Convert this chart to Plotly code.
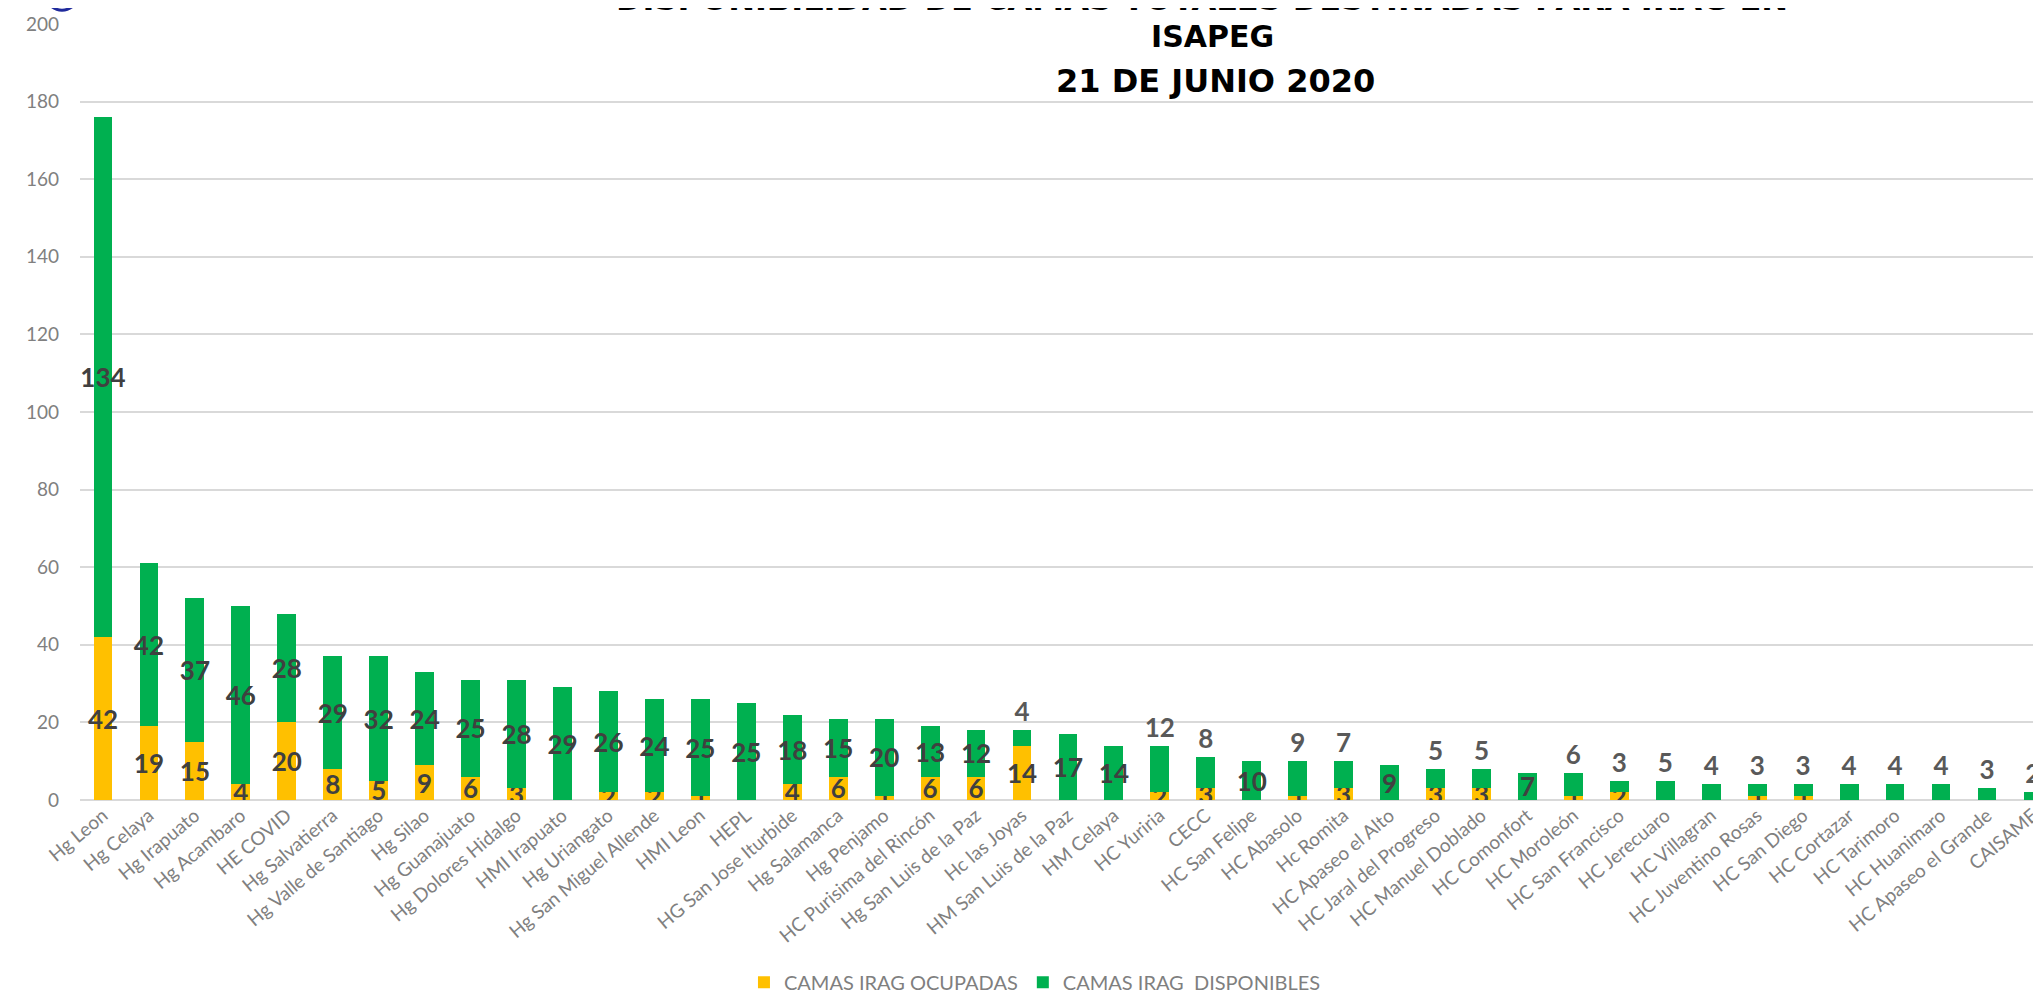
import plotly.graph_objects as go

hospitales = ["Hg Leon", "Hg Celaya", "Hg Irapuato", "Hg Acambaro", "HE COVID",
              "Hg Salvatierra", "Hg Valle de Santiago", "Hg Silao", "Hg Guanajuato",
              "Hg Dolores Hidalgo", "HMI Irapuato", "Hg Uriangato", "Hg San Miguel Allende",
              "HMI Leon", "HEPL", "HG San Jose Iturbide", "Hg Salamanca", "Hg Penjamo",
              "HC Purisima del Rincón", "Hg San Luis de la Paz", "Hc las Joyas",
              "HM San Luis de la Paz", "HM Celaya", "HC Yuriria", "CECC", "HC San Felipe",
              "HC Abasolo", "Hc Romita", "HC Apaseo el Alto", "HC Jaral del Progreso",
              "HC Manuel Doblado", "HC Comonfort", "HC Moroleón", "HC San Francisco",
              "HC Jerecuaro", "HC Villagran", "HC Juventino Rosas", "HC San Diego",
              "HC Cortazar", "HC Tarimoro", "HC Huanimaro", "HC Apaseo el Grande", "CAISAME"]
ocupadas = [42, 19, 15, 4, 20, 8, 5, 9, 6, 3, 0, 2, 2, 1, 0, 4, 6, 1, 6, 6, 14,
            0, 0, 2, 3, 0, 1, 3, 0, 3, 3, 0, 1, 2, 0, 0, 1, 1, 0, 0, 0, 0, 0]
disponibles = [134, 42, 37, 46, 28, 29, 32, 24, 25, 28, 29, 26, 24, 25, 25, 18, 15, 20,
               13, 12, 4, 17, 14, 12, 8, 10, 9, 7, 9, 5, 5, 7, 6, 3, 5, 4, 3, 3, 4, 4, 4, 3, 2]

# labels that Excel moved above the bar
arriba = {"Hc las Joyas", "HC Yuriria", "CECC", "HC Abasolo", "Hc Romita",
          "HC Jaral del Progreso", "HC Manuel Doblado", "HC Moroleón", "HC San Francisco",
          "HC Jerecuaro", "HC Villagran", "HC Juventino Rosas", "HC San Diego",
          "HC Cortazar", "HC Tarimoro", "HC Huanimaro", "HC Apaseo el Grande", "CAISAME"}

AMARILLO = "#FFC000"
VERDE = "#00B050"
FONT = "Lato"

pos_verde = ["outside" if h in arriba else "inside" for h in hospitales]

fig = go.Figure()
fig.add_trace(go.Bar(
    x=hospitales, y=ocupadas, name="CAMAS IRAG OCUPADAS",
    marker=dict(color=AMARILLO, line=dict(width=0)),
    text=[str(v) if v > 0 else "" for v in ocupadas],
    textposition="inside", insidetextanchor="middle", textangle=0,
    constraintext="none",
    insidetextfont=dict(family=FONT, size=26, color="#404040", weight="bold"),
))
fig.add_trace(go.Bar(
    x=hospitales, y=disponibles, name="CAMAS IRAG  DISPONIBLES",
    marker=dict(color=VERDE, line=dict(width=0)),
    text=[str(v) for v in disponibles],
    textposition=pos_verde, insidetextanchor="middle", textangle=0,
    constraintext="none", cliponaxis=False,
    insidetextfont=dict(family=FONT, size=26, color="#404040", weight="bold"),
    outsidetextfont=dict(family=FONT, size=26, color="#595959", weight="bold"),
))

ml, mt, mb = 72, 16, 190
ph = 994 - mt - mb
pw = 2041 - ml


def py(p):
    return (994 - mb - p) / ph


def px_(p):
    return (p - ml) / pw


# title: first line is cut by the top edge of the picture
titulo = ["DISPONIBILIDAD DE CAMAS TOTALES DESTINADAS PARA IRAG EN", "ISAPEG", "21 DE JUNIO 2020"]
for t, xx, yy, sz in zip(titulo, [1194, 1204, 1207], [-9, 29, 74], [32, 30, 32]):
    fig.add_annotation(text="<b>%s</b>" % t, xref="paper", yref="paper",
                       x=px_(xx), y=py(yy), xanchor="center", yanchor="middle",
                       showarrow=False, font=dict(family="DejaVu Sans", size=sz, color="#000000"))

# blue logo edge peeking in at the top left
fig.add_shape(type="circle", xref="paper", yref="paper",
              x0=px_(36), x1=px_(72), y0=py(2), y1=py(-40),
              line=dict(color="#1f2a9c", width=3))

fig.update_layout(
    width=2041, height=994,
    margin=dict(l=ml, r=0, t=mt, b=mb),
    paper_bgcolor="white", plot_bgcolor="white",
    barmode="stack", bargap=0.59,
    uniformtext=dict(minsize=26, mode="show"),
    font=dict(family=FONT, color="#7f7f7f"),
    showlegend=True,
    legend=dict(orientation="h", x=0.485, xanchor="center", y=py(989), yanchor="middle",
                font=dict(family=FONT, size=20, color="#7f7f7f"), traceorder="normal",
                itemwidth=30),
    xaxis=dict(range=[-0.5, 42.35], tickangle=-40, showgrid=False, ticks="",
               tickfont=dict(family=FONT, size=19, color="#808080"),
               showline=False, zeroline=False),
    yaxis=dict(range=[0, 200], dtick=20, showgrid=True, gridcolor="#d9d9d9", gridwidth=2,
               zeroline=True, zerolinecolor="#d9d9d9", zerolinewidth=2,
               tickfont=dict(family=FONT, size=19, color="#808080"),
               ticklabelstandoff=20, showline=False),
)

fig.write_html("out.html")
